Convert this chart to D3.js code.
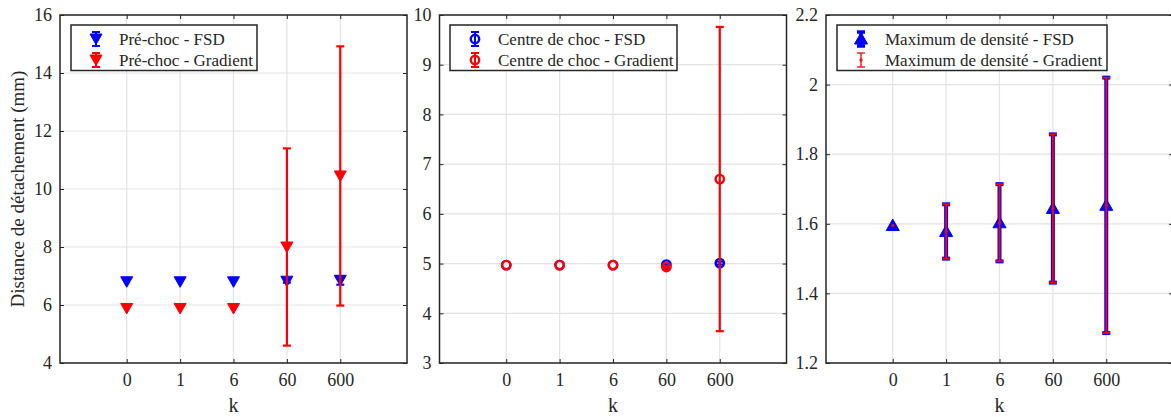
<!DOCTYPE html>
<html><head><meta charset="utf-8">
<script src="https://cdn.jsdelivr.net/npm/d3@7"></script>
<style>body{margin:0;background:#fff;} svg{display:block;}</style>
</head><body>
<svg id="c" width="1171" height="417"></svg>
<script>
const categories = ["0", "1", "6", "60", "600"];

const preFSD = [6.80, 6.80, 6.80, 6.82, 6.85];
const preFSDErr = [0, 0, 0, 0.05, 0.15];
const preGrad = [5.88, 5.88, 5.88, 8.0, 10.45];
const preGradErr = [0, 0, 0, 3.4, 4.47];

const centreFSD = [4.97, 4.97, 4.97, 4.98, 5.01];
const centreFSDErr = [0, 0, 0, 0.02, 0.03];
const centreGrad = [4.97, 4.97, 4.97, 4.93, 6.70];
const centreGradErr = [0, 0, 0, 0.02, 3.06];

const maxFSD = [1.595, 1.578, 1.603, 1.644, 1.653];
const maxFSDErr = [0, 0.078, 0.111, 0.213, 0.367];
const maxGrad = [1.595, 1.578, 1.603, 1.644, 1.653];
const maxGradErr = [0, 0.078, 0.111, 0.213, 0.367];

const yTicks1 = [4, 6, 8, 10, 12, 14, 16];
const yTicks2 = [3, 4, 5, 6, 7, 8, 9, 10];
const yTicks3 = [1.2, 1.4, 1.6, 1.8, 2, 2.2];

const legend1 = ["Pré-choc - FSD", "Pré-choc - Gradient"];
const legend2 = ["Centre de choc - FSD", "Centre de choc - Gradient"];
const legend3 = ["Maximum de densité - FSD", "Maximum de densité - Gradient"];

const yLabel = "Distance de détachement (mm)";
const xLabel = "k";

const BLUE = "#0000ff", RED = "#ff0000", AX = "#262626", GRID = "#e3e3e3";
const FONT = "'Liberation Serif', 'Times New Roman', serif";

const svg = d3.select("#c");
const pTop = 15, pBottom = 363, W = 347;

const panels = [
  {left: 60, ydom: [4, 16], yticks: yTicks1, fmt: d => d, marker: "down",
   series: [{v: preFSD, e: preFSDErr, c: BLUE}, {v: preGrad, e: preGradErr, c: RED}],
   legend: legend1, lg: {x: 71, w: 186, mx: 96, tx: 119}},
  {left: 439.5, ydom: [3, 10], yticks: yTicks2, fmt: d => d, marker: "circle",
   series: [{v: centreFSD, e: centreFSDErr, c: BLUE}, {v: centreGrad, e: centreGradErr, c: RED}],
   legend: legend2, lg: {x: 450, w: 227, mx: 475, tx: 498}},
  {left: 826, ydom: [1.2, 2.2], yticks: yTicks3, fmt: d => String(+d.toFixed(1)), marker: "up",
   series: [{v: maxFSD, e: maxFSDErr, c: BLUE, thick: true}, {v: maxGrad, e: maxGradErr, c: RED, dot: true}],
   legend: legend3, lg: {x: 837, w: 270, mx: 861, tx: 885}}
];

function drawMarker(g, type, x, y, color) {
  if (type === "down") {
    g.append("path").attr("d", `M${x-6},${y-5}L${x+6},${y-5}L${x},${y+5.5}Z`)
      .attr("fill", color).attr("stroke", color).attr("stroke-width", 1);
  } else if (type === "up") {
    g.append("path").attr("d", `M${x-6.5},${y+5}L${x+6.5},${y+5}L${x},${y-6.5}Z`)
      .attr("fill", color).attr("stroke", color).attr("stroke-width", 1);
  } else if (type === "circle") {
    g.append("circle").attr("cx", x).attr("cy", y).attr("r", 4.2)
      .attr("fill", "none").attr("stroke", color).attr("stroke-width", 2.4);
  }
}

function errBar(g, x, y1, y2, color, w) {
  g.append("line").attr("x1", x).attr("x2", x).attr("y1", y1).attr("y2", y2)
    .attr("stroke", color).attr("stroke-width", w);
  [y1, y2].forEach(yy => g.append("line").attr("x1", x - 4).attr("x2", x + 4)
    .attr("y1", yy).attr("y2", yy).attr("stroke", color).attr("stroke-width", w));
}

panels.forEach((p, pi) => {
  const x = d3.scaleLinear().domain([-0.25, 6.25]).range([p.left, p.left + W]);
  const y = d3.scaleLinear().domain(p.ydom).range([pBottom, pTop]);
  const g = svg.append("g");
  const xt = categories.map((c, i) => i + 1);

  g.append("g").selectAll("line").data(p.yticks).join("line")
    .attr("x1", p.left).attr("x2", p.left + W).attr("y1", d => y(d)).attr("y2", d => y(d))
    .attr("stroke", GRID).attr("stroke-width", 1.2);
  g.append("g").selectAll("line").data(xt).join("line")
    .attr("x1", d => x(d)).attr("x2", d => x(d)).attr("y1", pTop).attr("y2", pBottom)
    .attr("stroke", GRID).attr("stroke-width", 1.2);

  const ya = g.append("g").attr("transform", `translate(${p.left},0)`)
    .call(d3.axisLeft(y).tickValues(p.yticks).tickSizeInner(-4).tickSizeOuter(0).tickPadding(8)
      .tickFormat(p.fmt));
  const yb = g.append("g").attr("transform", `translate(${p.left + W},0)`)
    .call(d3.axisRight(y).tickValues(p.yticks).tickSizeInner(-4).tickSizeOuter(0).tickFormat(""));
  const xa = g.append("g").attr("transform", `translate(0,${pBottom})`)
    .call(d3.axisBottom(x).tickValues(xt).tickSizeInner(-4).tickSizeOuter(0).tickPadding(10)
      .tickFormat((d, i) => categories[i]));
  const xb = g.append("g").attr("transform", `translate(0,${pTop})`)
    .call(d3.axisTop(x).tickValues(xt).tickSizeInner(-4).tickSizeOuter(0).tickFormat(""));
  [ya, yb, xa, xb].forEach(a => {
    a.select(".domain").remove();
    a.selectAll("line").attr("stroke", AX).attr("stroke-width", 1);
    a.selectAll("text").attr("font-family", FONT).attr("font-size", 18).attr("fill", AX);
  });
  g.append("rect").attr("x", p.left).attr("y", pTop).attr("width", W).attr("height", pBottom - pTop)
    .attr("fill", "none").attr("stroke", AX).attr("stroke-width", 1.5);

  g.append("text").attr("x", x(3)).attr("y", 412).attr("text-anchor", "middle")
    .attr("font-family", FONT).attr("font-size", 20).attr("fill", AX).text(xLabel);

  const dg = g.append("g");
  p.series.forEach((s, si) => {
    s.v.forEach((v, i) => {
      const cx = x(i + 1);
      if (s.e[i] > 0) {
        errBar(dg, cx, y(v + s.e[i]), y(v - s.e[i]), s.c, s.thick ? 4 : (s.dot ? 1.8 : 2.2));
      }
      if (s.dot) {
        dg.append("circle").attr("cx", cx).attr("cy", y(v)).attr("r", 1.6).attr("fill", s.c);
      } else {
        drawMarker(dg, p.marker, cx, y(v), s.c);
      }
    });
  });

  const lg = g.append("g");
  lg.append("rect").attr("x", p.lg.x).attr("y", 25).attr("width", p.lg.w).attr("height", 45.5)
    .attr("fill", "#fff").attr("stroke", AX).attr("stroke-width", 1.5);
  p.legend.forEach((t, i) => {
    const ly = 39 + i * 21;
    const s = p.series[i];
    const bw = s.thick ? 3.5 : (s.dot ? 1.3 : 2);
    lg.append("line").attr("x1", p.lg.mx).attr("x2", p.lg.mx).attr("y1", ly - 7).attr("y2", ly + 7)
      .attr("stroke", s.c).attr("stroke-width", bw);
    [ly - 7, ly + 7].forEach(yy => lg.append("line").attr("x1", p.lg.mx - 4).attr("x2", p.lg.mx + 4)
      .attr("y1", yy).attr("y2", yy).attr("stroke", s.c).attr("stroke-width", bw));
    if (s.dot) lg.append("circle").attr("cx", p.lg.mx).attr("cy", ly).attr("r", 1.6).attr("fill", s.c);
    else drawMarker(lg, p.marker, p.lg.mx, ly, s.c);
    lg.append("text").attr("x", p.lg.tx).attr("y", ly).attr("dy", "0.35em")
      .attr("font-family", FONT).attr("font-size", 17).attr("fill", AX).text(t);
  });
});

svg.append("text").attr("transform", `translate(24,${(pTop + pBottom) / 2}) rotate(-90)`)
  .attr("text-anchor", "middle").attr("font-family", FONT).attr("font-size", 19).attr("fill", AX)
  .text(yLabel);
</script>
</body></html>
